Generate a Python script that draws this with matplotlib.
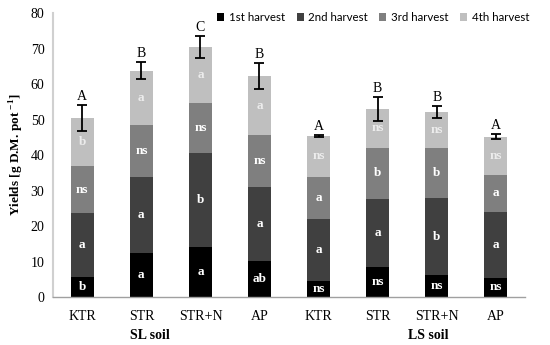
import matplotlib
matplotlib.use('Agg')
import matplotlib.pyplot as plt
import numpy as np

# ── data (g D.M. per pot, per harvest) ───────────────────────────────────────
treatments = ['KTR', 'STR', 'STR+N', 'AP', 'KTR', 'STR', 'STR+N', 'AP']
soils      = ['SL soil', 'LS soil']

h1 = [5.6, 12.4, 14.1, 10.1, 4.5, 8.5, 6.2, 5.4]
h2 = [18.0, 21.4, 26.5, 20.9, 17.5, 19.2, 21.6, 18.6]
h3 = [13.3, 14.7, 14.0, 14.6, 11.8, 14.3, 14.2, 10.4]
h4 = [13.5, 15.2, 15.8, 16.7, 11.6, 11.0, 10.1, 10.8]
err = [3.7, 2.4, 3.1, 3.7, 0.3, 3.3, 1.6, 0.8]

lab1 = ['b', 'a', 'a', 'ab', 'ns', 'ns', 'ns', 'ns']
lab2 = ['a', 'a', 'b', 'a', 'a', 'a', 'b', 'a']
lab3 = ['ns', 'ns', 'ns', 'ns', 'a', 'b', 'b', 'a']
lab4 = ['b', 'a', 'a', 'a', 'ns', 'ns', 'ns', 'ns']
top_labels = ['A', 'B', 'C', 'B', 'A', 'B', 'B', 'A']

series = [
    ('1st harvest', h1, lab1, '#000000', 'white'),
    ('2nd harvest', h2, lab2, '#404040', 'white'),
    ('3rd harvest', h3, lab3, '#7f7f7f', 'white'),
    ('4th harvest', h4, lab4, '#bfbfbf', '#ececec'),
]

SERIF = ['Liberation Serif', 'DejaVu Serif']
SANS = ['Lato', 'DejaVu Sans']
plt.rcParams['mathtext.fontset'] = 'custom'
plt.rcParams['mathtext.rm'] = 'Liberation Serif'
plt.rcParams['mathtext.bf'] = 'Liberation Serif:bold'

fig = plt.figure(figsize=(5.5, 3.45), dpi=100)
ax = fig.add_axes([0.096, 0.139, 0.859, 0.823])

x = np.arange(len(treatments))
width = 0.39
bottom = np.zeros(len(x))
for name, vals, labs, col, tcol in series:
    vals = np.array(vals)
    ax.bar(x, vals, width, bottom=bottom, color=col, label=name, zorder=2)
    for xi, b, v, t in zip(x, bottom, vals, labs):
        ax.text(xi, b + v / 2, t, ha='center', va='center', color=tcol,
                fontsize=9.5, fontweight='bold', fontfamily=SERIF, zorder=3)
    bottom = bottom + vals

ax.errorbar(x, bottom, yerr=err, fmt='none', ecolor='black', elinewidth=1.3,
            capsize=3.5, capthick=1.3, zorder=4)
for xi, tot, e, t in zip(x, bottom, err, top_labels):
    ax.text(xi, tot + e + 0.6, t, ha='center', va='bottom', fontsize=10,
            fontfamily=SERIF)

ax.set_xlim(-0.5, len(x) - 0.5)
ax.set_ylim(0, 80)
ax.set_yticks(range(0, 81, 10))
ax.set_xticks(x)
ax.set_xticklabels(treatments, fontfamily=SERIF, fontsize=10)
for lbl in ax.get_yticklabels():
    lbl.set_fontfamily(SERIF)
    lbl.set_fontsize(10)
ax.tick_params(length=0, pad=6)
ax.tick_params(axis='x', pad=9)

for side in ['top', 'right']:
    ax.spines[side].set_visible(False)
ax.spines['left'].set_color('#d0d0d0')
ax.spines['left'].set_linewidth(1.5)
ax.spines['bottom'].set_color('#a0a0a0')
ax.spines['bottom'].set_linewidth(1.0)

ax.set_ylabel(r'Yields [g D.M. pot $^{\mathbf{-1}}$]', fontfamily=SERIF,
              fontsize=9.5, fontweight='bold', labelpad=3)

# soil group labels below the category labels
for pos, s in zip([1.15, 5.85], soils):
    ax.text(pos, -10.8, s, ha='center', va='center', fontsize=10,
            fontweight='bold', fontfamily=SERIF, transform=ax.transData,
            clip_on=False)

leg = ax.legend(loc='upper right', bbox_to_anchor=(1.03, 1.04), ncol=4,
                frameon=False, prop={'family': SANS, 'size': 8.3},
                handlelength=0.6, handleheight=0.6, handletextpad=0.4,
                columnspacing=1.0)

fig.savefig('out.png', dpi=100)
